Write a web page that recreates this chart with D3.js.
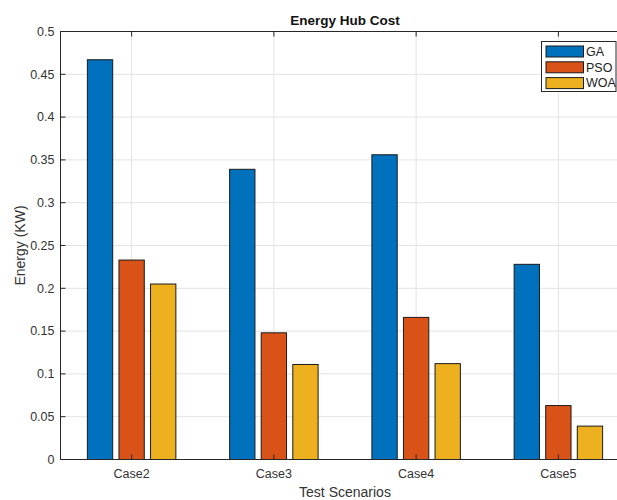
<!DOCTYPE html>
<html><head><meta charset="utf-8">
<script src="https://cdn.jsdelivr.net/npm/d3@7"></script>
<style>body{margin:0;background:#fff;} svg{display:block;} text{font-family:Arial,"Liberation Sans",sans-serif;}</style>
</head><body><div id="chart"></div>
<script>
const categories = ["Case2","Case3","Case4","Case5"];
const seriesNames = ["GA","PSO","WOA"];
const GA  = [0.467, 0.339, 0.356, 0.228];
const PSO = [0.233, 0.148, 0.166, 0.063];
const WOA = [0.205, 0.111, 0.112, 0.039];
const yTicks = [0,0.05,0.1,0.15,0.2,0.25,0.3,0.35,0.4,0.45,0.5];
const colors = ["#0072BD","#D95319","#EDB120"];
const series = [GA, PSO, WOA];

const W = 617, H = 500;
const L = 60.5, R = 629.5, T = 31.5, B = 459.5;
const svg = d3.select("#chart").append("svg").attr("width", W).attr("height", H);
svg.append("rect").attr("width", W).attr("height", H).attr("fill", "#fff");

const x = d3.scaleLinear().domain([0.5, 4.5]).range([L, R]);
const y = d3.scaleLinear().domain([0, 0.5]).range([B, T]);
const axisColor = "#262626";

// grid
const g = svg.append("g");
g.selectAll(".gy").data(yTicks).enter().append("line")
  .attr("x1", L).attr("x2", R).attr("y1", d => y(d)).attr("y2", d => y(d))
  .attr("stroke", "#e3e3e3").attr("stroke-width", 1);
g.selectAll(".gx").data(categories).enter().append("line")
  .attr("x1", (d,i) => x(i+1)).attr("x2", (d,i) => x(i+1)).attr("y1", T).attr("y2", B)
  .attr("stroke", "#e3e3e3").attr("stroke-width", 1);

// bars
const offsets = [-0.222, 0, 0.222];
const bw = 0.178;
series.forEach((vals, s) => {
  svg.append("g").selectAll("rect").data(vals).enter().append("rect")
    .attr("x", (d,i) => x(i+1+offsets[s]-bw/2))
    .attr("width", (d,i) => x(i+1+offsets[s]+bw/2) - x(i+1+offsets[s]-bw/2))
    .attr("y", d => y(d))
    .attr("height", d => B - y(d))
    .attr("fill", colors[s]).attr("stroke", "#1a1a1a").attr("stroke-width", 1);
});

// axes box
const box = svg.append("g").attr("stroke", axisColor).attr("stroke-width", 1).attr("fill","none");
box.append("line").attr("x1", L).attr("x2", L).attr("y1", T).attr("y2", B);
box.append("line").attr("x1", L).attr("x2", R).attr("y1", B).attr("y2", B);
box.append("line").attr("x1", L).attr("x2", R).attr("y1", T).attr("y2", T);
box.append("line").attr("x1", R).attr("x2", R).attr("y1", T).attr("y2", B);

// ticks
const tl = 5;
yTicks.forEach(t => {
  box.append("line").attr("x1", L).attr("x2", L+tl).attr("y1", y(t)).attr("y2", y(t));
});
categories.forEach((c,i) => {
  box.append("line").attr("x1", x(i+1)).attr("x2", x(i+1)).attr("y1", B).attr("y2", B-tl);
  box.append("line").attr("x1", x(i+1)).attr("x2", x(i+1)).attr("y1", T).attr("y2", T+tl);
});

// tick labels
svg.append("g").selectAll("text").data(yTicks).enter().append("text")
  .attr("x", L - 6).attr("y", d => y(d)).attr("dy", "0.35em")
  .attr("text-anchor", "end").attr("font-size", 12.5).attr("fill", "#333")
  .text(d => d3.format("")(d));
svg.append("g").selectAll("text").data(categories).enter().append("text")
  .attr("x", (d,i) => x(i+1)).attr("y", 478)
  .attr("text-anchor", "middle").attr("font-size", 12.5).attr("fill", "#333")
  .text(d => d);

// axis labels
svg.append("text").attr("x", (L+R)/2).attr("y", 497)
  .attr("text-anchor", "middle").attr("font-size", 14).attr("fill", "#333").text("Test Scenarios");
svg.append("text").attr("transform", `translate(25,${(T+B)/2}) rotate(-90)`)
  .attr("text-anchor", "middle").attr("font-size", 14).attr("fill", "#333").text("Energy (KW)");

// title
svg.append("text").attr("x", (L+R)/2).attr("y", 25)
  .attr("text-anchor", "middle").attr("font-size", 13.5).attr("font-weight", "bold").attr("fill", "#111").text("Energy Hub Cost");

// legend
const lg = svg.append("g");
lg.append("rect").attr("x", 541.5).attr("y", 41.5).attr("width", 74.5).attr("height", 50)
  .attr("fill", "#fff").attr("stroke", axisColor).attr("stroke-width", 1);
seriesNames.forEach((n, i) => {
  const cy = 51.5 + i * 15.8;
  lg.append("rect").attr("x", 546).attr("y", cy - 5.5).attr("width", 37.5).attr("height", 11)
    .attr("fill", colors[i]).attr("stroke", "#1a1a1a").attr("stroke-width", 1);
  lg.append("text").attr("x", 586).attr("y", cy).attr("dy", "0.35em")
    .attr("font-size", 12.5).attr("fill", "#222").text(n);
});
</script></body></html>
